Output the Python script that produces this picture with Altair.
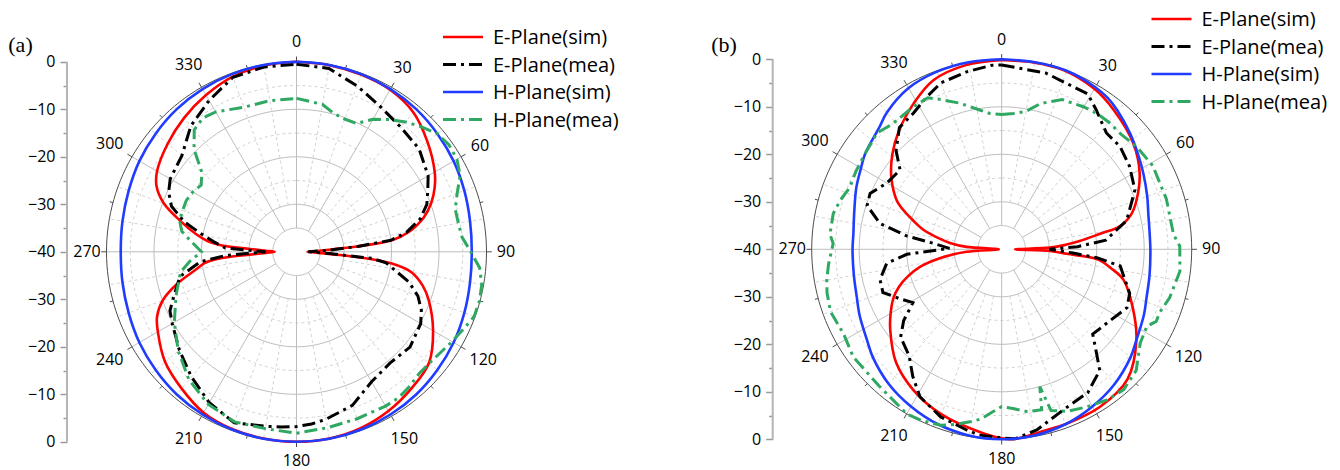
import altair as alt
import pandas as pd

# ---------------- data (angle in degrees, level in dB) ----------------
A_ESIM_ANG = [0,10,20,30,40,50,60,65,70,75,80,83,85,86,87,88,89,90,91,92,93,94,95,97,100,105,110,120,130,140,
              150,160,170,180,190,200,210,220,230,240,245,250,255,260,263,265,266.5,268,270,272,273.5,275,277,280,
              285,290,295,300,310,320,330,340,350,360]
A_ESIM_DB = [0,-0.1,-0.3,-0.6,-1.7,-4.0,-6.4,-7.9,-9.8,-12.3,-16.0,-19.6,-27.3,-32.2,-34.7,-36.2,-37.1,-37.7,-37.1,-36.2,
             -34.7,-32.2,-27.0,-19.8,-15.5,-12.5,-10.4,-6.8,-3.6,-2.4,-1.3,-0.5,-0.1,0,-0.1,-0.3,-0.9,-2.4,-3.9,-6.3,
             -7.6,-10.0,-14.0,-18.5,-20.5,-23.5,-30.2,-33.5,-35.4,-33.5,-30.2,-23.8,-21.0,-18.5,-14.6,-10.3,-7.5,-6.1,-4.6,-3.2,
             -1.9,-0.75,-0.2,0]

A_EMEA_ANG = [0,10,20,30,40,50,60,65,70,75,80,83,85,87,90,93,95,97,100,105,110,115,120,130,140,150,160,170,175,180,
              185,190,200,210,220,230,240,245,250,258,264,267,270,273,277,281,285,290,295,300,310,320,330,340,350,360]
A_EMEA_DB = [-0.5,-0.8,-2.8,-4.7,-5.8,-6.3,-8.0,-9.5,-10.8,-13.0,-16.5,-20.0,-27.0,-33.0,-37.5,-33.0,-24.0,-21.0,-19.3,-15.5,
             -12.8,-11.0,-9.8,-8.8,-9.4,-8.4,-5.6,-4.2,-3.6,-3.2,-3.0,-2.7,-1.7,-3.3,-5.6,-7.8,-9.8,-10.6,-12.5,-14.9,
             -19.6,-25.0,-33.5,-25.0,-22.4,-19.3,-15.5,-12.0,-10.3,-9.3,-8.5,-5.4,-3.2,-0.9,-0.5,-0.5]

A_HSIM_ANG = [0,10,20,30,40,50,60,70,80,90,100,110,120,130,140,150,160,170,180,190,200,210,220,230,240,250,260,270,
              280,290,300,310,320,330,340,350,360]
A_HSIM_DB = [0,-0.05,-0.2,-0.45,-0.8,-1.3,-1.8,-2.4,-2.9,-3.1,-2.9,-2.4,-1.8,-1.3,-0.8,-0.45,-0.2,-0.05,0,-0.05,-0.2,
             -0.45,-0.8,-1.3,-1.8,-2.4,-2.8,-3.0,-2.8,-2.4,-1.8,-1.3,-0.8,-0.45,-0.2,-0.05,0]

A_HMEA_ANG = [0,10,15,20,25,30,35,40,45,50,55,60,65,70,75,80,85,90,95,100,105,110,115,120,130,135,140,145,150,160,
              170,180,190,200,210,220,230,240,250,260,265,270,275,280,285,290,295,300,305,310,315,320,325,330,340,350,360]
A_HMEA_DB = [-7.7,-8.5,-9.8,-10.3,-10.2,-7.8,-6.0,-4.3,-2.8,-1.3,-0.8,-1.0,-2.0,-4.0,-5.4,-5.4,-5.0,-3.3,-1.3,-0.4,
             -0.1,-0.2,-1.3,-2.2,-3.5,-3.6,-3.0,-2.5,-2.5,-2.6,-2.4,-1.8,-2.2,-1.9,-2.9,-4.8,-7.5,-10.3,-13.0,-15.2,
             -17.5,-20.0,-18.0,-15.5,-14.5,-14.5,-14.4,-14.8,-15.5,-14.0,-9.5,-6.5,-5.6,-6.0,-7.6,-7.7,-7.7]

B_ESIM_ANG = [0,10,19,30,39,51,61,70,75,79,81,84,86,88,90,92,94,96,100,104,114,124,136,148,160,166,176,180,186,200,
              212,223,234,240,246,250,254,258,262,266,270,274,277,280,284,288,293,295,303,311,319,329,338,349,360]
B_ESIM_DB = [-0.15,-0.1,-0.1,-1.0,-2.4,-4.4,-6.8,-9.8,-11.8,-14.7,-19.0,-23.5,-26.5,-29.8,-37.2,-29.8,-26.3,-19.7,-16.5,-13.6,
             -9.8,-5.8,-1.9,-0.9,-0.8,-0.8,0,-0.2,-1.1,-3.0,-5.0,-7.4,-11.0,-13.0,-15.1,-17.0,-19.5,-22.5,-27.0,-32.6,
             -39.4,-32.6,-29.0,-26.5,-23.0,-20.4,-16.8,-15.6,-12.3,-9.5,-7.0,-4.1,-1.6,-0.5,-0.15]

B_EMEA_ANG = [0,14,29,34,42,49,57,66,77,85,88,90,93,95,98,109,115,125,133,137,141,149,159,169,176,180,187,191,200,209,
              215,221,229,234,239,244,250,256,263,267,271,275,278,282,288,293,300,308,313,320,327,334,340,349,357,360]
B_EMEA_DB = [-1.2,-1.75,-2.6,-4.5,-7.05,-7.0,-7.9,-9.3,-13.0,-18.0,-24.0,-30.0,-25.0,-19.9,-14.8,-11.5,-10.9,-12.95,-13.8,-10.9,
             -7.2,-4.8,-3.8,-1.25,0,-0.3,-0.6,-1.25,-2.45,-4.5,-7.35,-10.3,-11.8,-14.5,-18.2,-16.2,-13.4,-13.6,-15.6,-20.0,
             -29.0,-25.5,-19.8,-13.8,-10.2,-9.9,-12.1,-12.85,-9.6,-6.5,-5.85,-4.2,-2.7,-1.9,-1.2,-1.2]

B_HSIM_ANG = [0,10,20,30,35,40,48,55,62,70,76,90,100,108,115,124,130,140,150,160,170,180,190,200,210,220,230,236,
              245,252,260,270,276,284,293,300,305,315,320,330,340,350,360]
B_HSIM_DB = [0,0,0,-0.6,-1.1,-2.0,-3.6,-5.0,-6.2,-7.4,-8.2,-8.7,-8.4,-7.9,-7.0,-5.8,-4.6,-3.0,-1.8,-0.8,-0.2,0,-0.2,
             -0.8,-1.8,-3.0,-4.6,-5.8,-7.0,-7.9,-8.4,-8.6,-8.6,-8.0,-6.75,-5.8,-4.9,-3.6,-2.4,-0.8,-0.2,0,0]

B_HMEA_ANG = [0,5,10,15,22,30,35,40,46,53,61,73,85,89,97,106,112,115,118,124,128,132,139,145,152,158,163,164.5,166,171,
              176,180,183,187,190,195,199,205,210,215,222,228,234,242,250,256,260,265,272,275,282,287,292,298,304,313,
              319,328,334,338,344,351,355,360]
B_HMEA_DB = [-11.6,-11.3,-10.5,-8.2,-6.0,-5.4,-5.1,-5.0,-5.1,-4.3,-3.65,-3.75,-3.7,-2.5,-2.2,-3.2,-4.2,-4.1,-5.4,-4.8,
             -3.5,-1.9,-0.85,-1.3,-2.35,-3.2,-4.5,-10.0,-5.2,-5.4,-6.4,-6.9,-5.8,-4.0,-3.2,-1.8,-0.8,-0.2,0,-0.8,
             -1.35,-1.6,-1.4,-2.25,-1.65,-2.1,-2.6,-3.4,-4.5,-3.7,-3.75,-4.5,-5.45,-5.2,-4.95,-4.1,-5.0,-4.7,-4.5,-6.0,
             -8.0,-10.3,-11.3,-11.6]

SERIES_NAMES = ["E-Plane(sim)", "E-Plane(mea)", "H-Plane(sim)", "H-Plane(mea)"]
RADIAL_TICKS = list(range(-40, 41, 5))
ANGLE_LABELS = list(range(0, 360, 30))
RING_LEVELS = [-35, -30, -25, -20, -15, -10, -5, 0]

# ---------------- styles / layout ----------------
FONT = "Open Sans"
K = 4.75            # pixels per dB
CANVAS_H = 470
STYLES = [
    dict(color="#ff0000", strokeWidth=2.6, interp="catmull-rom"),
    dict(color="#000000", strokeWidth=3.0, dash=[13, 5, 3, 5], interp="linear"),
    dict(color="#1f3cff", strokeWidth=2.6, interp="catmull-rom"),
    dict(color="#2fa862", strokeWidth=3.0, dash=[13, 5, 3, 5], interp="linear"),
]

POLAR = dict(u="max(datum.db + 40, 0)",
             px="datum.u * sin(datum.ang * PI / 180)",
             py="datum.u * cos(datum.ang * PI / 180)")


def panel(series, cx, cy, left, width, tag, tag_xy, legend_x, legend_y0, axis_x):
    xs = alt.Scale(domain=[(left - cx) / K, (left + width - cx) / K], nice=False, zero=False)
    ys = alt.Scale(domain=[-(CANVAS_H - cy) / K, cy / K], nice=False, zero=False)
    yaxis = alt.Axis(values=RADIAL_TICKS, offset=-(axis_x - left), domain=False, grid=False, title=None,
                     labelExpr="datum.value % 10 == 0 ? format(abs(datum.value) - 40, 'd') : ''",
                     tickSize={"condition": {"test": "datum.value % 10 == 0", "value": 7}, "value": 4},
                     tickColor="#9a9a9a", tickWidth=1.5, labelFont=FONT, labelFontSize=16,
                     labelColor="#000000", labelPadding=5)

    # rings
    rows = [{"lv": lv, "ang": a} for lv in RING_LEVELS for a in range(0, 361, 2)]
    rings = alt.Chart(pd.DataFrame(rows)).transform_calculate(db="datum.lv", **POLAR)
    enc = dict(x=alt.X("px:Q", scale=xs, axis=None), y=alt.Y("py:Q", scale=ys, axis=None),
               detail="lv:N", order="ang:Q")
    ring_solid = rings.transform_filter("datum.lv == -35 || datum.lv == -30 || datum.lv == -20 || datum.lv == -10").mark_line(
        color="#bdbdbd", strokeWidth=1).encode(x=alt.X("px:Q", scale=xs, axis=None),
                                              y=alt.Y("py:Q", scale=ys, axis=yaxis), detail="lv:N", order="ang:Q")
    ring_dash = rings.transform_filter("datum.lv == -25 || datum.lv == -15 || datum.lv == -5").mark_line(
        color="#d2d2d2", strokeWidth=1, strokeDash=[3, 3]).encode(**enc)
    ring_outer = rings.transform_filter("datum.lv == 0").mark_line(color="#4d4d4d", strokeWidth=1).encode(**enc)

    # spokes
    sp = pd.DataFrame({"ang": list(range(0, 360, 10))})
    spokes = alt.Chart(sp).transform_calculate(
        r0="datum.ang % 30 == 0 ? 5 : 10",
        x0="datum.r0 * sin(datum.ang * PI / 180)", y0="datum.r0 * cos(datum.ang * PI / 180)",
        x1="40 * sin(datum.ang * PI / 180)", y1="40 * cos(datum.ang * PI / 180)")
    senc = dict(x=alt.X("x0:Q", scale=xs, axis=None), y=alt.Y("y0:Q", scale=ys, axis=None), x2="x1:Q", y2="y1:Q")
    spoke_major = spokes.transform_filter("datum.ang % 30 == 0").mark_rule(color="#bdbdbd", strokeWidth=1).encode(**senc)
    spoke_minor = spokes.transform_filter("datum.ang % 30 != 0").mark_rule(
        color="#d2d2d2", strokeWidth=1, strokeDash=[3, 3]).encode(**senc)

    # outer ticks
    tk = pd.DataFrame({"ang": list(range(0, 360, 15))})
    ticks = alt.Chart(tk).transform_calculate(
        r1="datum.ang % 30 == 0 ? 41.1 : 40.7",
        x0="40 * sin(datum.ang * PI / 180)", y0="40 * cos(datum.ang * PI / 180)",
        x1="datum.r1 * sin(datum.ang * PI / 180)", y1="datum.r1 * cos(datum.ang * PI / 180)"
    ).mark_rule(color="#4d4d4d", strokeWidth=1).encode(**senc)

    # angle labels
    al = pd.DataFrame({"ang": ANGLE_LABELS, "lab": [str(a) for a in ANGLE_LABELS]})
    alabels = alt.Chart(al).transform_calculate(
        rr="datum.ang % 90 == 0 ? 44.1 : (length(datum.lab) >= 3 ? 45.4 : 44.6)",
        lx="datum.rr * sin(datum.ang * PI / 180)", ly="datum.rr * cos(datum.ang * PI / 180)"
    ).mark_text(font=FONT, fontSize=16, color="#000000", align="center", baseline="middle").encode(
        x=alt.X("lx:Q", scale=xs, axis=None), y=alt.Y("ly:Q", scale=ys, axis=None), text="lab:N")

    # radial axis line
    axis_line = alt.Chart(pd.DataFrame({"v": [0]})).mark_rule(color="#b4b4b4", strokeWidth=2).encode(
        x=alt.value(axis_x - left), y=alt.YDatum(-40, scale=ys, axis=None), y2=alt.Y2Datum(40))

    layers = [ring_solid, ring_dash, spoke_major, spoke_minor, ring_outer, ticks, axis_line, alabels]

    # data curves + legend
    for i, ((ang, db), name, st) in enumerate(zip(series, SERIES_NAMES, STYLES)):
        assert len(ang) == len(db)
        mk = dict(color=st["color"], strokeWidth=st["strokeWidth"])
        if "dash" in st:
            mk["strokeDash"] = st["dash"]
        curve = alt.Chart(pd.DataFrame({"ang": ang, "db": db})).transform_calculate(**POLAR).mark_line(
            interpolate=st["interp"], **mk).encode(
            x=alt.X("px:Q", scale=xs, axis=None), y=alt.Y("py:Q", scale=ys, axis=None), order="ang:Q")
        layers.append(curve)
        yy = legend_y0 + i * 27.5
        ldf = pd.DataFrame({"name": [name]})
        layers.append(alt.Chart(ldf).mark_rule(**mk).encode(
            x=alt.value(legend_x - left), x2=alt.value(legend_x - left + 40), y=alt.value(yy)))
        layers.append(alt.Chart(ldf).mark_text(font=FONT, fontSize=20, align="left", baseline="middle",
                                               color="#000000").encode(
            x=alt.value(legend_x - left + 50), y=alt.value(yy + 1), text="name:N"))

    layers.append(alt.Chart(pd.DataFrame({"t": [tag]})).mark_text(
        font="Liberation Serif", fontSize=22, align="center", baseline="middle", color="#000000").encode(
        x=alt.value(tag_xy[0] - left), y=alt.value(tag_xy[1]), text="t:N"))

    return alt.layer(*layers).resolve_axis(x="independent", y="independent").properties(
        width=width, height=CANVAS_H)


pa = panel([(A_ESIM_ANG, A_ESIM_DB), (A_EMEA_ANG, A_EMEA_DB), (A_HSIM_ANG, A_HSIM_DB), (A_HMEA_ANG, A_HMEA_DB)],
           cx=296.5, cy=251.8, left=0, width=650, tag="(a)", tag_xy=(20.5, 45),
           legend_x=443, legend_y0=37, axis_x=67)
pb = panel([(B_ESIM_ANG, B_ESIM_DB), (B_EMEA_ANG, B_EMEA_DB), (B_HSIM_ANG, B_HSIM_DB), (B_HMEA_ANG, B_HMEA_DB)],
           cx=1001.7, cy=249.3, left=650, width=690, tag="(b)", tag_xy=(724, 45),
           legend_x=1151.5, legend_y0=19, axis_x=772.7)

chart = alt.hconcat(pa, pb, spacing=0, bounds="flush").properties(
    padding={"left": 0, "top": 0, "right": 0, "bottom": 0}
).configure_view(stroke=None)

chart.save("out.html", embed_options={"renderer": "svg", "actions": False})
